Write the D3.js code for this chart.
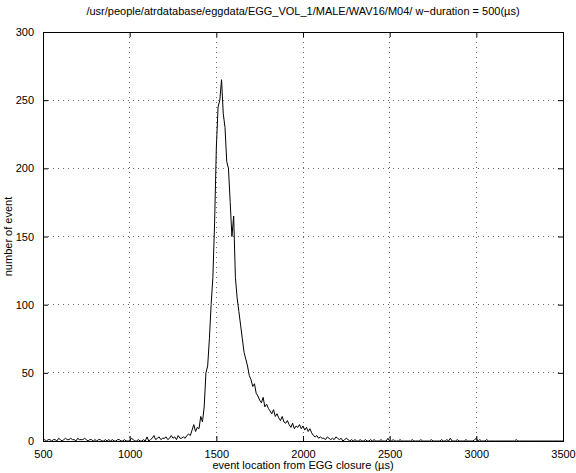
<!DOCTYPE html>
<html><head><meta charset="utf-8">
<script src="https://cdn.jsdelivr.net/npm/d3@7"></script>
<style>
body{margin:0;background:#fff;}
text{font-family:"Liberation Sans",Arial,Helvetica,sans-serif;font-size:11px;fill:#000;}
</style></head>
<body><svg id="c" width="576" height="473"></svg>
<script>
const titleText = "/usr/people/atrdatabase/eggdata/EGG_VOL_1/MALE/WAV16/M04/ w\u2212duration = 500(\u00b5s)";
const xLabel = "event location from EGG closure (\u00b5s)";
const yLabel = "number of event";
const xTicks = [500,1000,1500,2000,2500,3000,3500];
const yTicks = [0,50,100,150,200,250,300];
const binStart = 500;
const binWidth = 10;
const counts = [
0,1,0,1,1,0,1,1,0,2,
1,0,1,2,1,1,2,1,1,0,
2,1,1,1,2,1,0,1,1,0,
1,0,1,1,0,0,1,0,1,0,
1,0,0,1,1,0,0,1,0,0,
0,2,1,0,0,1,0,0,1,0,
3,0,1,2,4,1,2,3,1,2,
2,3,1,2,4,2,3,1,4,2,
2,3,2,4,5,4,8,12,7,10,
9,18,14,25,50,55,75,100,120,160,
215,245,250,265,240,230,205,200,175,150,
165,120,105,95,85,75,65,60,55,48,
45,40,42,35,33,30,28,32,25,27,
24,22,20,23,18,20,17,15,18,14,
13,15,12,10,13,9,11,10,12,9,
11,8,10,7,9,6,4,3,4,2,
3,2,2,1,3,2,1,2,1,3,
2,1,2,0,1,2,1,0,1,0,
1,0,0,1,0,0,1,0,0,1,
0,1,0,0,0,1,0,0,0,2,
0,0,1,0,0,0,1,0,0,0,
0,0,0,1,0,0,0,0,1,0,
0,0,0,0,1,0,0,0,0,0,
1,0,0,1,0,2,0,0,0,1,
0,0,0,0,1,0,0,0,0,1,
2,0,1,0,0,0,1,0,0,0,
0,0,0,0,0,0,0,0,0,0,
0,0,0,1,0,0,0,0,0,0,
0,0,0,0,0,0,0,0,0,0,
0,0,0,0,0,0,0,0,0,0,
0];

const L=43, R=563, T=32, B=441;
const svg = d3.select("#c");
const x = d3.scaleLinear().domain([500,3500]).range([L,R]);
const y = d3.scaleLinear().domain([0,300]).range([B,T]);

// grid
const g = svg.append("g");
xTicks.slice(1,-1).forEach(v=>{
  g.append("line").attr("x1",x(v)).attr("x2",x(v)).attr("y1",T).attr("y2",B)
   .attr("stroke","#666").attr("stroke-width",1).attr("stroke-dasharray","1,4").attr("shape-rendering","crispEdges");
});
yTicks.slice(1,-1).forEach(v=>{
  g.append("line").attr("x1",L).attr("x2",R).attr("y1",y(v)).attr("y2",y(v))
   .attr("stroke","#666").attr("stroke-width",1).attr("stroke-dasharray","1,4").attr("shape-rendering","crispEdges");
});

// data line
const data = counts.map((c,i)=>({x:binStart+i*binWidth, y:c}));
svg.append("path").datum(data)
  .attr("fill","none").attr("stroke","#000").attr("stroke-width",1)
  .attr("d", d3.line().x(d=>x(d.x)).y(d=>y(d.y)));

// axes
const ax = svg.append("g").attr("transform",`translate(0,${B})`)
  .call(d3.axisBottom(x).tickValues(xTicks).tickSize(-5).tickPadding(9).tickFormat(d3.format("d")));
const axT = svg.append("g").attr("transform",`translate(0,${T})`)
  .call(d3.axisTop(x).tickValues(xTicks).tickSize(-5).tickFormat(""));
const ay = svg.append("g").attr("transform",`translate(${L},0)`)
  .call(d3.axisLeft(y).tickValues(yTicks).tickSize(-5).tickPadding(9).tickFormat(d3.format("d")));
const ayR = svg.append("g").attr("transform",`translate(${R},0)`)
  .call(d3.axisRight(y).tickValues(yTicks).tickSize(-5).tickFormat(""));
[ax,axT,ay,ayR].forEach(a=>{
  a.select(".domain").remove();
  a.selectAll("line").attr("stroke","#000");
  a.selectAll("text").attr("font-family","Liberation Sans, Arial, sans-serif").attr("font-size",11).attr("fill","#000");
});
svg.append("rect").attr("x",L).attr("y",T).attr("width",R-L).attr("height",B-T)
  .attr("fill","none").attr("stroke","#000").attr("stroke-width",1).attr("shape-rendering","crispEdges");

// labels
svg.append("text").attr("x",(L+R)/2).attr("y",15).attr("text-anchor","middle").text(titleText);
svg.append("text").attr("x",(L+R)/2).attr("y",469).attr("text-anchor","middle").text(xLabel);
svg.append("text").attr("transform",`translate(12,${(T+B)/2}) rotate(-90)`).attr("text-anchor","middle").text(yLabel);
</script></body></html>
